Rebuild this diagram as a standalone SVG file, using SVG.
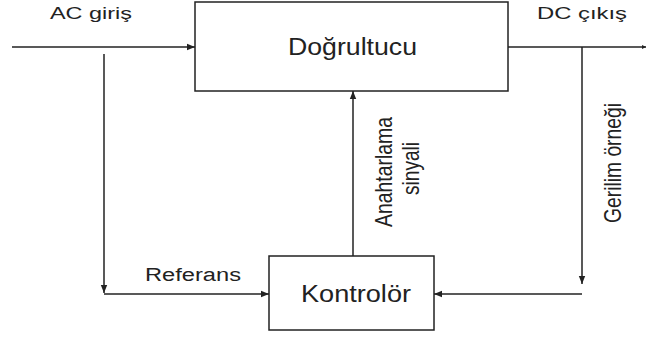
<svg xmlns="http://www.w3.org/2000/svg" width="646" height="338" viewBox="0 0 646 338">
<style>
.box{fill:#fff;stroke:#222;stroke-width:1.5}
.ln{fill:none;stroke:#222;stroke-width:1.5}
.t{font-family:"Liberation Sans",Arial,sans-serif;fill:#222}
</style>
<defs>
<marker id="ah" viewBox="0 0 10 10" refX="10" refY="5" markerWidth="8" markerHeight="8" markerUnits="userSpaceOnUse" orient="auto">
<path d="M0,1 L10,5 L0,9 Z" fill="#222"/>
</marker>
<marker id="ahs" viewBox="0 0 10 10" refX="10" refY="5" markerWidth="4" markerHeight="5" markerUnits="userSpaceOnUse" orient="auto">
<path d="M0,0 L10,5 L0,10 Z" fill="#222"/>
</marker>
</defs>
<rect width="646" height="338" fill="#fff"/>
<g id="connectors">
<line class="ln" x1="12" y1="47" x2="195" y2="47" marker-end="url(#ah)"/>
<line class="ln" x1="104" y1="54" x2="104" y2="293" marker-end="url(#ah)"/>
<line class="ln" x1="104" y1="294" x2="269" y2="294" marker-end="url(#ah)"/>
<line class="ln" x1="508" y1="47" x2="646" y2="47" marker-end="url(#ahs)"/>
<line class="ln" x1="582" y1="47" x2="582" y2="284" marker-end="url(#ah)"/>
<line class="ln" x1="582" y1="294" x2="434" y2="294" marker-end="url(#ah)"/>
<line class="ln" x1="353" y1="256" x2="353" y2="91" marker-end="url(#ah)"/>
<text class="t" x="50" y="19" font-size="17" textLength="82" lengthAdjust="spacingAndGlyphs">AC giriş</text>
<text class="t" x="537" y="19" font-size="17" textLength="90" lengthAdjust="spacingAndGlyphs">DC çıkış</text>
<text class="t" x="145" y="281" font-size="18" textLength="96" lengthAdjust="spacingAndGlyphs">Referans</text>
<text class="t" transform="translate(392,227) rotate(-90)" font-size="24" textLength="110" lengthAdjust="spacingAndGlyphs">Anahtarlama</text>
<text class="t" transform="translate(419,195) rotate(-90)" font-size="24" textLength="53" lengthAdjust="spacingAndGlyphs">sinyali</text>
<text class="t" transform="translate(621,223) rotate(-90)" font-size="24" textLength="120" lengthAdjust="spacingAndGlyphs">Gerilim örneği</text>
</g>
<g id="dogrultucu">
<rect class="box" x="195" y="2" width="313" height="89"/>
<text class="t" x="288" y="55" font-size="23" textLength="129" lengthAdjust="spacingAndGlyphs">Doğrultucu</text>
</g>
<g id="kontrolor">
<rect class="box" x="269" y="256" width="165" height="74"/>
<text class="t" x="301" y="302" font-size="23" textLength="110" lengthAdjust="spacingAndGlyphs">Kontrolör</text>
</g>
</svg>
